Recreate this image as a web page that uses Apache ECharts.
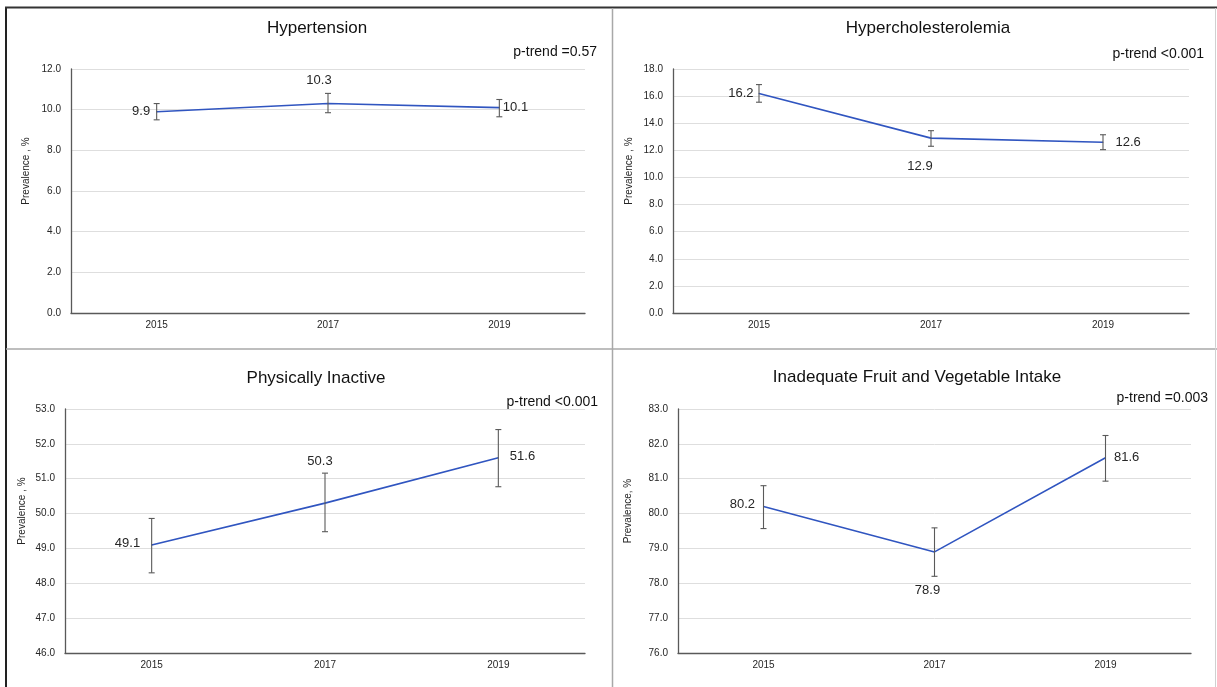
<!DOCTYPE html>
<html>
<head>
<meta charset="utf-8">
<script src="https://cdn.jsdelivr.net/npm/echarts@6/dist/echarts.min.js"></script>
<style>
html,body{margin:0;padding:0;background:#fff;}
#chart{width:1217px;height:687px;}
</style>
</head>
<body>
<div id="chart"></div>
<script>
// ---- data ----
const years = ['2015', '2017', '2019'];

const hypertension = [9.9, 10.3, 10.1];
const hypertensionLow = [9.5, 9.85, 9.65];
const hypertensionHigh = [10.3, 10.8, 10.5];

const cholesterol = [16.2, 12.9, 12.6];
const cholesterolLow = [15.55, 12.3, 12.05];
const cholesterolHigh = [16.85, 13.45, 13.15];

const inactive = [49.1, 50.3, 51.6];
const inactiveLow = [48.3, 49.48, 50.77];
const inactiveHigh = [49.86, 51.16, 52.41];

const fruitVeg = [80.2, 78.9, 81.6];
const fruitVegLow = [79.57, 78.2, 80.93];
const fruitVegHigh = [80.8, 79.59, 82.24];

const panelTitles = ['Hypertension', 'Hypercholesterolemia', 'Physically Inactive', 'Inadequate Fruit and Vegetable Intake'];
const pTrends = ['p-trend =0.57', 'p-trend <0.001', 'p-trend <0.001', 'p-trend =0.003'];
const yNames = ['Prevalence , %', 'Prevalence , %', 'Prevalence , %', 'Prevalence, %'];
const yMin = [0, 0, 46, 76];
const yMax = [12, 18, 53, 83];
const yStep = [2, 2, 1, 1];

// ---- layout / style (not data) ----
const grids = [
  {left: 71, top: 69, width: 514, height: 244},
  {left: 673, top: 69, width: 516, height: 244},
  {left: 65, top: 409, width: 520, height: 244},
  {left: 678, top: 409, width: 513, height: 244}
];
const titlePos = [[317, 28], [928, 28], [316, 378], [917, 377]];
const pPos = [[597, 52], [1204, 54], [598, 402], [1208, 398]];
const nameGaps = [40, 39, 38, 45];
const labelPlacement = [
  [{position: 'left', distance: 6}, {position: 'top', distance: 16, offset: [-9, 0]}, {position: 'right', distance: 3}],
  [{position: 'left', distance: 5}, {position: 'bottom', distance: 21, offset: [-11, 0]}, {position: 'right', distance: 12}],
  [{position: 'left', distance: 11, offset: [0, -2]}, {position: 'top', distance: 35, offset: [-5, 0]}, {position: 'right', distance: 11, offset: [0, -1]}],
  [{position: 'left', distance: 8, offset: [0, -2]}, {position: 'bottom', distance: 32, offset: [-7, 0]}, {position: 'right', distance: 8}]
];

const values = [hypertension, cholesterol, inactive, fruitVeg];
const lows = [hypertensionLow, cholesterolLow, inactiveLow, fruitVegLow];
const highs = [hypertensionHigh, cholesterolHigh, inactiveHigh, fruitVegHigh];

const FONT = '"Liberation Sans", Arial, sans-serif';
const LINE_COLOR = '#3055c0';

const xAxes = [], yAxes = [], series = [], graphics = [];

for (let i = 0; i < 4; i++) {
  xAxes.push({
    type: 'category', gridIndex: i, data: years, boundaryGap: true,
    axisLine: {show: true, lineStyle: {color: '#595959', width: 1.3}},
    axisTick: {show: false},
    axisLabel: {fontSize: 10, color: '#262626', margin: 7, fontFamily: FONT},
    splitLine: {show: false}
  });
  yAxes.push({
    type: 'value', gridIndex: i, min: yMin[i], max: yMax[i], interval: yStep[i],
    name: yNames[i], nameLocation: 'middle', nameGap: nameGaps[i], nameRotate: 90,
    nameTextStyle: {fontSize: 10, color: '#262626', fontFamily: FONT, padding: [0, 0, 0, 40]},
    axisLine: {show: true, lineStyle: {color: '#595959', width: 1.3}},
    axisTick: {show: false},
    axisLabel: {fontSize: 10, color: '#262626', margin: 10, fontFamily: FONT,
      formatter: v => v.toFixed(1)},
    splitLine: {show: true, lineStyle: {color: '#dedede', width: 1}}
  });
  const pts = values[i].map((v, j) => {
    const lp = labelPlacement[i][j];
    const lab = {show: true, position: lp.position, distance: lp.distance};
    if (lp.offset) lab.offset = lp.offset;
    return {value: v, label: lab};
  });
  series.push({
    type: 'line', xAxisIndex: i, yAxisIndex: i, data: pts,
    symbol: 'circle', symbolSize: 1, showSymbol: true,
    lineStyle: {color: LINE_COLOR, width: 1.6},
    itemStyle: {color: LINE_COLOR},
    label: {show: true, fontSize: 13, color: '#262626', fontFamily: FONT,
      formatter: p => p.value.toFixed(1)},
    silent: true, animation: false, z: 3
  });
  const errData = years.map((y, j) => [j, lows[i][j], highs[i][j]]);
  series.push({
    type: 'custom', xAxisIndex: i, yAxisIndex: i, data: errData,
    encode: {x: 0, y: [1, 2]},
    renderItem: function (params, api) {
      const x = api.value(0);
      const lo = api.coord([x, api.value(1)]);
      const hi = api.coord([x, api.value(2)]);
      const cap = 3;
      const st = {stroke: '#5a5a5a', lineWidth: 1.1};
      return {
        type: 'group',
        children: [
          {type: 'line', shape: {x1: lo[0], y1: lo[1], x2: hi[0], y2: hi[1]}, style: st},
          {type: 'line', shape: {x1: lo[0] - cap, y1: lo[1], x2: lo[0] + cap, y2: lo[1]}, style: st},
          {type: 'line', shape: {x1: hi[0] - cap, y1: hi[1], x2: hi[0] + cap, y2: hi[1]}, style: st}
        ]
      };
    },
    silent: true, animation: false, z: 4
  });
  graphics.push({
    type: 'text', x: titlePos[i][0], y: titlePos[i][1],
    style: {text: panelTitles[i], fontSize: 17, fill: '#111', fontFamily: FONT,
      textAlign: 'center', textVerticalAlign: 'middle'}
  });
  graphics.push({
    type: 'text', x: pPos[i][0], y: pPos[i][1],
    style: {text: pTrends[i], fontSize: 14, fill: '#111', fontFamily: FONT,
      textAlign: 'right', textVerticalAlign: 'middle'}
  });
}

// frame & dividers
graphics.push(
  {type: 'line', shape: {x1: 6, y1: 7, x2: 6, y2: 687}, style: {stroke: '#222', lineWidth: 2}},
  {type: 'line', shape: {x1: 5, y1: 7.5, x2: 1217, y2: 7.5}, style: {stroke: '#333', lineWidth: 2}},
  {type: 'line', shape: {x1: 6, y1: 349, x2: 1217, y2: 349}, style: {stroke: '#a8a8a8', lineWidth: 1.5}},
  {type: 'line', shape: {x1: 612.5, y1: 8, x2: 612.5, y2: 687}, style: {stroke: '#a8a8a8', lineWidth: 1.5}},
  {type: 'line', shape: {x1: 1215.5, y1: 8, x2: 1215.5, y2: 687}, style: {stroke: '#d0d0d0', lineWidth: 1}}
);

const chart = echarts.init(document.getElementById('chart'), null, {renderer: 'canvas'});
chart.setOption({
  animation: false,
  backgroundColor: '#fff',
  grid: grids,
  xAxis: xAxes,
  yAxis: yAxes,
  series: series,
  graphic: graphics
});
</script>
</body>
</html>
